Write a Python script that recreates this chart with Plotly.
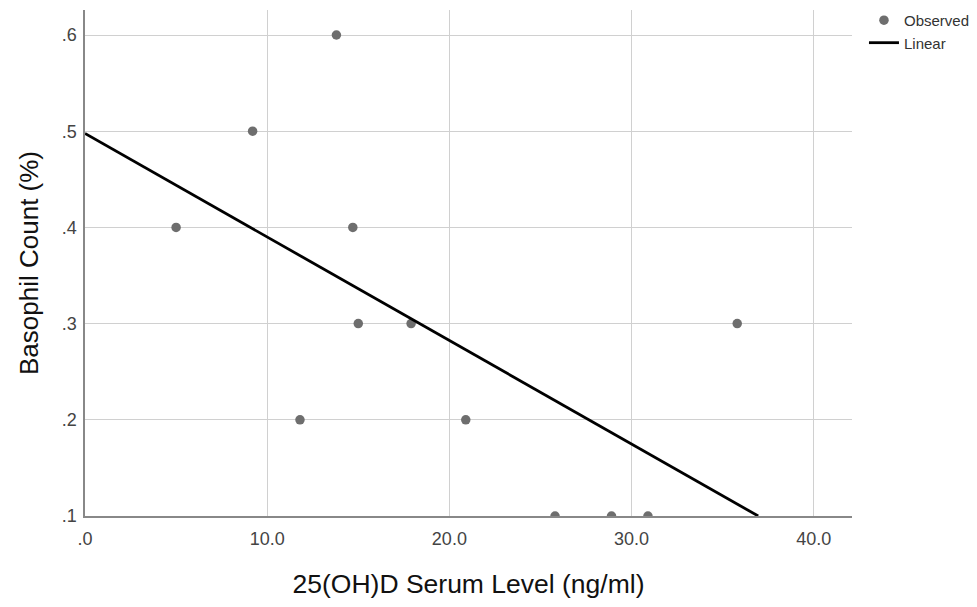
import numpy as np
import plotly.graph_objects as go

vitd = [5.0, 9.2, 11.8, 13.8, 14.7, 15.0, 17.9, 20.9, 25.8, 28.9, 30.9, 35.8]
basophil = [0.4, 0.5, 0.2, 0.6, 0.4, 0.3, 0.3, 0.2, 0.1, 0.1, 0.1, 0.3]

x_tick_vals = [0, 10, 20, 30, 40]
x_tick_text = [".0", "10.0", "20.0", "30.0", "40.0"]
y_tick_vals = [0.1, 0.2, 0.3, 0.4, 0.5, 0.6]
y_tick_text = [".1", ".2", ".3", ".4", ".5", ".6"]

# Linear fit
slope, intercept = np.polyfit(vitd, basophil, 1)
x_end = (0.1 - intercept) / slope
line_x = [0.0, x_end]
line_y = [intercept + slope * v for v in line_x]

fig = go.Figure()
fig.add_trace(go.Scatter(
    x=vitd, y=basophil, mode="markers", name="Observed",
    marker=dict(color="#6e6e6e", size=9.5),
))
fig.add_trace(go.Scatter(
    x=line_x, y=line_y, mode="lines", name="Linear",
    line=dict(color="black", width=2.8),
))

fig.update_layout(
    width=969, height=591,
    margin=dict(l=77, r=125, t=2, b=83, autoexpand=False),
    paper_bgcolor="white", plot_bgcolor="white",
    font=dict(family="Liberation Sans, Arial, sans-serif", color="#222"),
    legend=dict(x=1.0156, y=1.012, xanchor="left", yanchor="top",
                font=dict(size=15, color="#333"), tracegroupgap=0,
                itemwidth=30),
    showlegend=True,
)
fig.update_xaxes(
    range=[0, 42.1], tickvals=x_tick_vals, ticktext=x_tick_text,
    showgrid=True, gridcolor="#d0d0d0", gridwidth=1,
    showline=True, linecolor="#888888", linewidth=1.5,
    ticks="outside", ticklen=0, ticklabelstandoff=6,
    tickfont=dict(size=18, color="#444"),
    zeroline=False,
    title=dict(text="25(OH)D Serum Level (ng/ml)", font=dict(size=26.5, color="#111"), standoff=26),
)
fig.update_yaxes(
    range=[0.1, 0.626], tickvals=y_tick_vals, ticktext=y_tick_text,
    showgrid=True, gridcolor="#d0d0d0", gridwidth=1,
    showline=True, linecolor="#888888", linewidth=1.5,
    ticks="outside", ticklen=0, ticklabelstandoff=3,
    tickfont=dict(size=18, color="#444"),
    zeroline=False,
    title=dict(text="Basophil Count (%)", font=dict(size=26, color="#111"), standoff=16),
)

fig.write_html("out.html")
